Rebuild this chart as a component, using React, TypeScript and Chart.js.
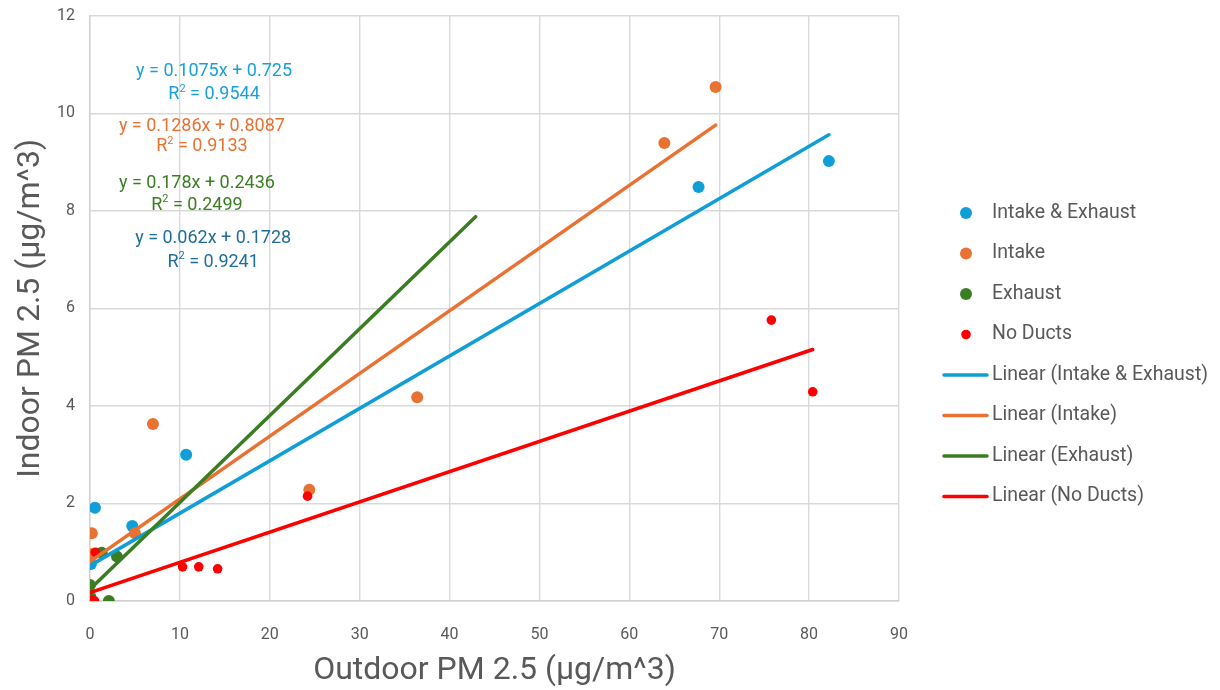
import React, { useEffect, useRef } from "react";
import { Chart, registerables } from "chart.js";

Chart.register(...registerables);

// ---- data ----
const seriesNames = ["Intake & Exhaust", "Intake", "Exhaust", "No Ducts"];
const seriesColors = ["#0F9ED5", "#E97132", "#3B7D23", "#FF0000"];

const intakeExhaustX = [0, 0.1, 0.55, 4.7, 10.7, 67.7, 82.2];
const intakeExhaustY = [0, 0.76, 1.91, 1.54, 3.0, 8.49, 9.02];

const intakeX = [0, 0.1, 0.2, 5.0, 7.0, 24.4, 36.4, 63.9, 69.6];
const intakeY = [0.1, 0.96, 1.39, 1.39, 3.63, 2.28, 4.18, 9.39, 10.54];

const exhaustX = [0, 0.1, 1.3, 2.1, 3.0];
const exhaustY = [0.33, 0.05, 0.99, 0, 0.91];

const noDuctsX = [0, 0.3, 0.5, 0.6, 10.3, 12.1, 14.2, 24.2, 75.8, 80.4];
const noDuctsY = [0, 0.02, 0, 1.0, 0.7, 0.7, 0.66, 2.15, 5.76, 4.29];

// trend line coefficients and x-ranges
const trendSlopes = [0.1075, 0.1286, 0.178, 0.062];
const trendIntercepts = [0.725, 0.8087, 0.2436, 0.1728];
const trendR2 = ["0.9544", "0.9133", "0.2499", "0.9241"];
const trendStartX = [0, 0, 0, 0];
const trendEndX = [82.2, 69.6, 42.9, 80.4];

const equationColors = ["#1AA0D8", "#E97132", "#3B7D23", "#1F6E9A"];
// equation label anchor points (data units): center x, y of first line, y of second line
const equationCenterX = [13.8, 12.45, 11.9, 13.7];
const equationLine1Y = [10.85, 9.74, 8.57, 7.43];
const equationLine2Y = [10.38, 9.31, 8.12, 6.95];

const xTickStep = 10;
const yTickStep = 2;

const xTitle = "Outdoor PM 2.5 (µg/m^3)";
const yTitle = "Indoor PM 2.5 (µg/m^3)";

const FONT = "Roboto, 'DejaVu Sans', sans-serif";
const TEXT = "#595959";

function toPoints(xs: number[], ys: number[]) {
  return xs.map((x, i) => ({ x, y: ys[i] }));
}

function fmt(n: number) {
  return String(n);
}

export default function App() {
  const ref = useRef<HTMLCanvasElement>(null);

  useEffect(() => {
    document.body.style.margin = "0";
    const xsAll = [intakeExhaustX, intakeX, exhaustX, noDuctsX];
    const ysAll = [intakeExhaustY, intakeY, exhaustY, noDuctsY];

    const pointSets: any[] = seriesNames.map((name, i) => ({
      type: "scatter",
      label: name,
      data: toPoints(xsAll[i], ysAll[i]),
      backgroundColor: seriesColors[i],
      borderColor: seriesColors[i],
      pointRadius: i === 3 ? 4.8 : 6,
      pointBorderWidth: 0,
      showLine: false,
      order: 7 - i,
    }));

    const lineSets: any[] = seriesNames.map((name, i) => ({
      type: "scatter",
      label: `Linear (${name})`,
      data: [trendStartX[i], trendEndX[i]].map((x) => ({
        x,
        y: trendSlopes[i] * x + trendIntercepts[i],
      })),
      borderColor: seriesColors[i],
      backgroundColor: seriesColors[i],
      borderWidth: 3.5,
      pointRadius: 0,
      showLine: true,
      borderCapStyle: "round",
      order: 3 - i,
    }));

    const overlay = {
      id: "overlay",
      afterDraw(chart: any) {
        const ctx = chart.ctx;
        const xs = chart.scales.x;
        const ys = chart.scales.y;
        ctx.save();
        // equations
        const eqSize = 18;
        const supSize = 11;
        for (let i = 0; i < 4; i++) {
          const cx = xs.getPixelForValue(equationCenterX[i]);
          const y1 = ys.getPixelForValue(equationLine1Y[i]);
          const y2 = ys.getPixelForValue(equationLine2Y[i]);
          ctx.fillStyle = equationColors[i];
          ctx.textBaseline = "middle";
          ctx.font = `${eqSize}px ${FONT}`;
          const l1 = `y = ${fmt(trendSlopes[i])}x + ${fmt(trendIntercepts[i])}`;
          ctx.textAlign = "center";
          ctx.fillText(l1, cx, y1);
          // R² line
          ctx.textAlign = "left";
          const rW = ctx.measureText("R").width;
          const restText = ` = ${trendR2[i]}`;
          const restW = ctx.measureText(restText).width;
          ctx.font = `${supSize}px ${FONT}`;
          const supW = ctx.measureText("2").width;
          const total = rW + supW + restW;
          const x0 = cx - total / 2;
          ctx.font = `${eqSize}px ${FONT}`;
          ctx.fillText("R", x0, y2);
          ctx.font = `${supSize}px ${FONT}`;
          ctx.fillText("2", x0 + rW, y2 - 6);
          ctx.font = `${eqSize}px ${FONT}`;
          ctx.fillText(restText, x0 + rW + supW, y2);
        }
        // legend
        const rowY0 = 213;
        const rowStep = 40.5;
        ctx.font = `19.5px ${FONT}`;
        ctx.textAlign = "left";
        ctx.textBaseline = "middle";
        for (let i = 0; i < 4; i++) {
          const y = rowY0 + i * rowStep;
          ctx.fillStyle = seriesColors[i];
          ctx.beginPath();
          ctx.arc(966, y, i === 3 ? 4.8 : 6, 0, Math.PI * 2);
          ctx.fill();
          ctx.fillStyle = TEXT;
          ctx.fillText(pointSets[i].label, 992, y);
        }
        for (let i = 0; i < 4; i++) {
          const y = rowY0 + (i + 4) * rowStep;
          ctx.strokeStyle = seriesColors[i];
          ctx.lineWidth = 3.5;
          ctx.lineCap = "round";
          ctx.beginPath();
          ctx.moveTo(944, y);
          ctx.lineTo(987, y);
          ctx.stroke();
          ctx.fillStyle = TEXT;
          ctx.fillText(lineSets[i].label, 992, y);
        }
        ctx.restore();
      },
    };

    const chart = new Chart(ref.current!, {
      type: "scatter",
      data: { datasets: [...pointSets, ...lineSets] },
      options: {
        animation: false,
        responsive: true,
        maintainAspectRatio: false,
        layout: { padding: { top: 12, right: 321, left: 0, bottom: 0 } },
        plugins: {
          legend: { display: false },
          tooltip: { enabled: false },
        },
        scales: {
          x: {
            type: "linear",
            min: 0,
            max: 90,
            ticks: {
              stepSize: xTickStep,
              color: TEXT,
              font: { family: FONT, size: 16 },
              padding: 24,
            },
            grid: { color: "#D9D9D9", lineWidth: 1.4, drawTicks: false },
            border: { color: "#D0D0D0", width: 1.4 },
            title: {
              display: true,
              text: xTitle,
              color: TEXT,
              font: { family: FONT, size: 32 },
              padding: { top: 0, bottom: 0 },
            },
            afterFit(scale: any) {
              scale.height = 89;
            },
          },
          y: {
            type: "linear",
            min: 0,
            max: 12,
            ticks: {
              stepSize: yTickStep,
              color: TEXT,
              font: { family: FONT, size: 16, lineHeight: 0.1 },
              padding: 15,
            },
            grid: { color: "#D9D9D9", lineWidth: 1.4, drawTicks: false },
            border: { color: "#D0D0D0", width: 1.4 },
            title: {
              display: true,
              text: yTitle,
              color: TEXT,
              font: { family: FONT, size: 32 },
              padding: { top: 12, bottom: 0 },
            },
            afterFit(scale: any) {
              scale.width = 90;
            },
          },
        },
      } as any,
      plugins: [overlay],
    });
    return () => chart.destroy();
  }, []);

  return (
    <div style={{ width: 1220, height: 690, position: "relative" }}>
      <canvas ref={ref} />
    </div>
  );
}
